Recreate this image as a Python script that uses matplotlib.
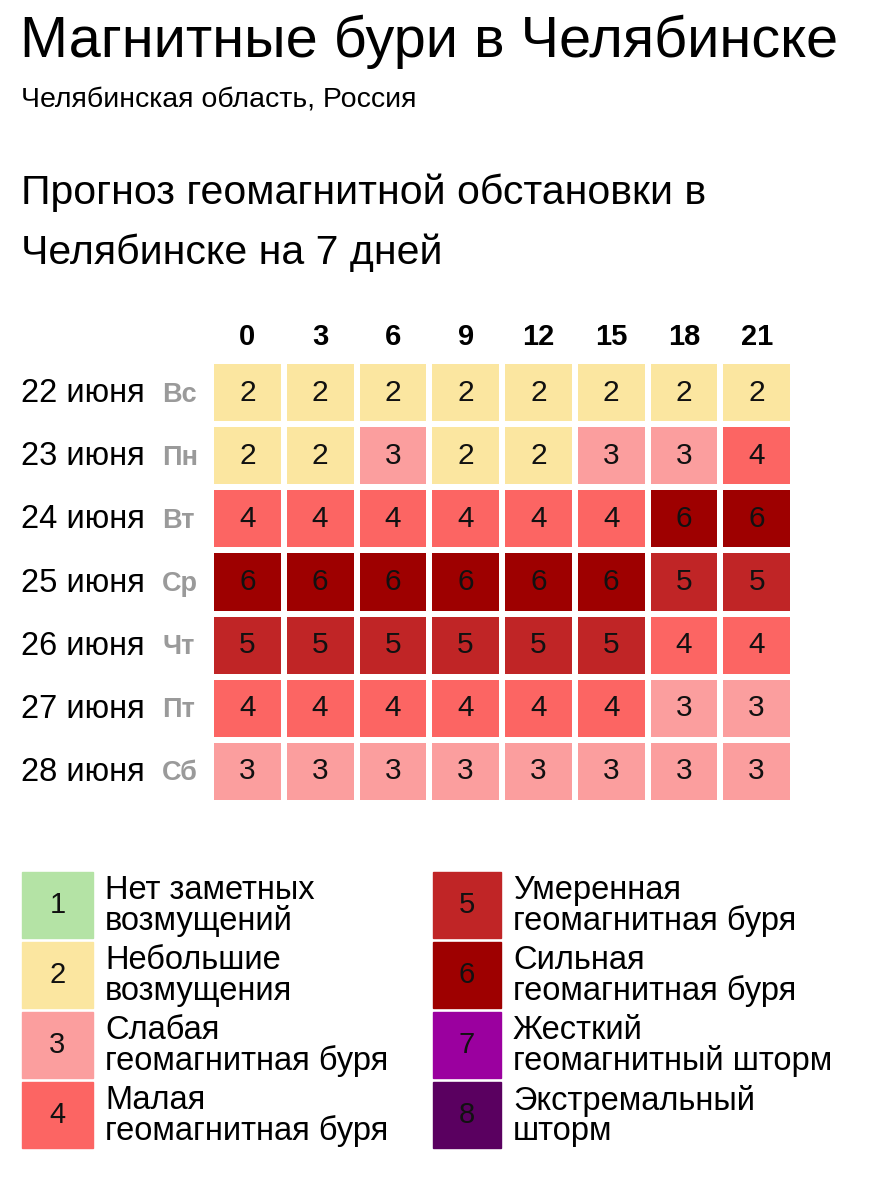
import matplotlib.pyplot as plt
from matplotlib.colors import ListedColormap, BoundaryNorm
from matplotlib.patches import Rectangle
import numpy as np

plt.rcParams['font.family'] = ['Liberation Sans', 'DejaVu Sans']

title = 'Магнитные бури в Челябинске'
subtitle = 'Челябинская область, Россия'
heading = ['Прогноз геомагнитной обстановки в', 'Челябинске на 7 дней']

hours = ['0', '3', '6', '9', '12', '15', '18', '21']
dates = ['22 июня', '23 июня', '24 июня', '25 июня', '26 июня', '27 июня', '28 июня']
weekdays = ['Вс', 'Пн', 'Вт', 'Ср', 'Чт', 'Пт', 'Сб']

kp = [
    [2, 2, 2, 2, 2, 2, 2, 2],
    [2, 2, 3, 2, 2, 3, 3, 4],
    [4, 4, 4, 4, 4, 4, 6, 6],
    [6, 6, 6, 6, 6, 6, 5, 5],
    [5, 5, 5, 5, 5, 5, 4, 4],
    [4, 4, 4, 4, 4, 4, 3, 3],
    [3, 3, 3, 3, 3, 3, 3, 3],
]

levels = [1, 2, 3, 4, 5, 6, 7, 8]
level_colors = ['#b4e3a5', '#fbe6a0', '#fb9e9e', '#fc6563',
                '#c02526', '#9e0000', '#9b009f', '#5a0060']
level_names = [
    'Нет заметных\nвозмущений',
    'Небольшие\nвозмущения',
    'Слабая\nгеомагнитная буря',
    'Малая\nгеомагнитная буря',
    'Умеренная\nгеомагнитная буря',
    'Сильная\nгеомагнитная буря',
    'Жесткий\nгеомагнитный шторм',
    'Экстремальный\nшторм',
]

W, H = 884, 1200
fig = plt.figure(figsize=(W / 100, H / 100), dpi=100)


def fx(x):
    return x / W


def fy(y):
    return 1 - y / H


# header texts
fig.text(fx(20), fy(42), title, fontsize=41.5, va='center', ha='left')
fig.text(fx(21), fy(99), subtitle, fontsize=20.5, va='center', ha='left')
fig.text(fx(21), fy(193), heading[0], fontsize=29.5, va='center', ha='left')
fig.text(fx(21), fy(253), heading[1], fontsize=29.5, va='center', ha='left')

# heatmap
gx0, gx1, gy0, gy1 = 211, 793, 361, 803
ax = fig.add_axes([fx(gx0), fy(gy1), (gx1 - gx0) / W, (gy1 - gy0) / H])
cmap = ListedColormap(level_colors)
norm = BoundaryNorm(np.arange(0.5, 9.5, 1), cmap.N)
data = np.array(kp)
ax.pcolormesh(data, cmap=cmap, norm=norm, edgecolors='white', linewidth=3)
ax.set_xlim(0, len(hours))
ax.set_ylim(len(dates), 0)
for i in range(len(dates)):
    for j in range(len(hours)):
        ax.text(j + 0.5, i + 0.5, str(kp[i][j]), ha='center', va='center',
                fontsize=21.5, color='#111111')
ax.set_xticks(np.arange(len(hours)) + 0.5)
ax.set_xticklabels(hours, fontsize=21, fontweight='bold')
ax.xaxis.tick_top()
ax.tick_params(axis='x', length=0, pad=7)
ax.set_yticks([])
for s in ax.spines.values():
    s.set_visible(False)

# row labels
row_h = (gy1 - gy0) / len(dates)
for i, (d, wd) in enumerate(zip(dates, weekdays)):
    yc = gy0 + row_h * (i + 0.5)
    fig.text(fx(21), fy(yc + 1), d, fontsize=23.5, va='center', ha='left')
    fig.text(fx(162), fy(yc + 2), wd, fontsize=19.5, va='center', ha='left',
             color='#9a9a9a', fontweight='bold')

# legend
lax = fig.add_axes([0, 0, 1, 1])
lax.set_xlim(0, W)
lax.set_ylim(H, 0)
lax.axis('off')
box_top = 872
box_h = 66
box_step = 70
cols = [(22, 93, 105), (433, 501, 513)]
for k, lv in enumerate(levels):
    c = k // 4
    r = k % 4
    bx0, bx1, tx = cols[c]
    by = box_top + r * box_step
    lax.add_patch(Rectangle((bx0, by), bx1 - bx0, box_h, color=level_colors[k]))
    lax.text((bx0 + bx1) / 2, by + box_h / 2, str(lv), ha='center', va='center',
             fontsize=21, color='#111111')
    lax.text(tx, by + box_h / 2 + 1, level_names[k], ha='left', va='center',
             fontsize=23.5, linespacing=0.98)

fig.savefig('out.png', dpi=100, facecolor='white')
